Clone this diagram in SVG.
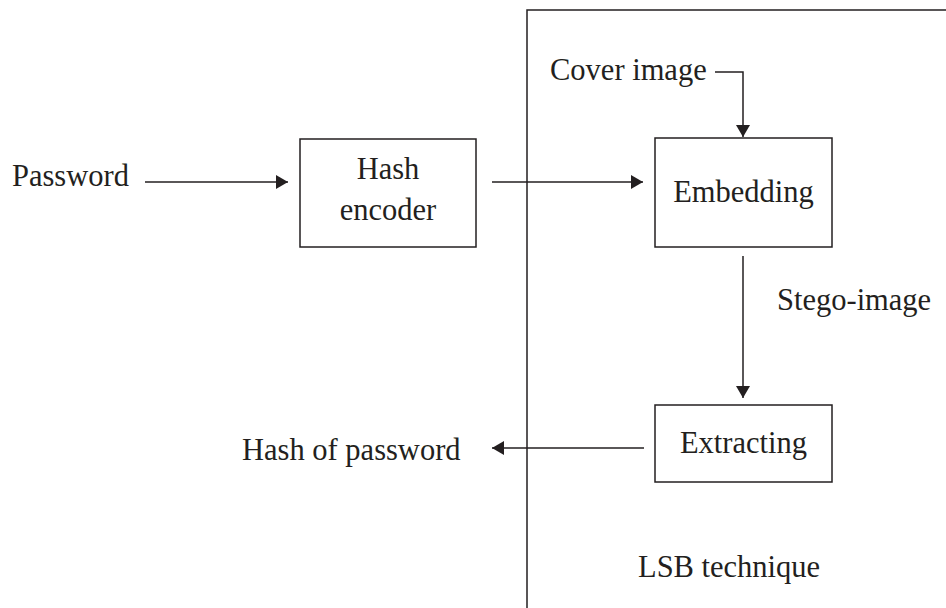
<svg xmlns="http://www.w3.org/2000/svg" width="946" height="608" viewBox="0 0 946 608">
<style>
.box{fill:none;stroke:#231f20;stroke-width:1.5}
.ln{fill:none;stroke:#231f20;stroke-width:1.5}
.t{font-family:"Liberation Serif","Times New Roman",serif;font-size:30.5px;fill:#231f20}
.c{text-anchor:middle}
</style>
<defs>
<marker id="ah" viewBox="0 0 12 14" refX="12" refY="7" markerWidth="12" markerHeight="14" markerUnits="userSpaceOnUse" orient="auto">
<path d="M0,0 L12,7 L0,14 Z" fill="#231f20"/>
</marker>
</defs>
<rect width="946" height="608" fill="#fff"/>
<g id="lsb-frame">
<rect class="box" x="527" y="10" width="500" height="700"/>
<text class="t" x="638" y="577">LSB technique</text>
</g>
<g id="password"><text class="t" x="12" y="186">Password</text></g>
<g id="hash-encoder">
<rect class="box" x="300" y="139" width="176" height="108"/>
<text class="t c" x="388" y="179">Hash</text>
<text class="t c" x="388" y="220">encoder</text>
</g>
<g id="cover-image"><text class="t" x="550" y="80">Cover image</text></g>
<g id="embedding">
<rect class="box" x="655" y="138" width="177" height="109"/>
<text class="t c" x="743.5" y="202">Embedding</text>
</g>
<g id="extracting">
<rect class="box" x="655" y="405" width="177" height="77"/>
<text class="t c" x="743.5" y="453">Extracting</text>
</g>
<g id="hash-of-password"><text class="t" x="242" y="460">Hash of password</text></g>
<g id="connectors">
<line class="ln" x1="145" y1="182" x2="288" y2="182" marker-end="url(#ah)"/>
<line class="ln" x1="492" y1="182" x2="643" y2="182" marker-end="url(#ah)"/>
<polyline class="ln" points="715,72 743,72 743,137" marker-end="url(#ah)"/>
<line class="ln" x1="743" y1="256" x2="743" y2="398" marker-end="url(#ah)"/>
<line class="ln" x1="644" y1="448" x2="492" y2="448" marker-end="url(#ah)"/>
<text class="t" x="777" y="310">Stego-image</text>
</g>
</svg>
